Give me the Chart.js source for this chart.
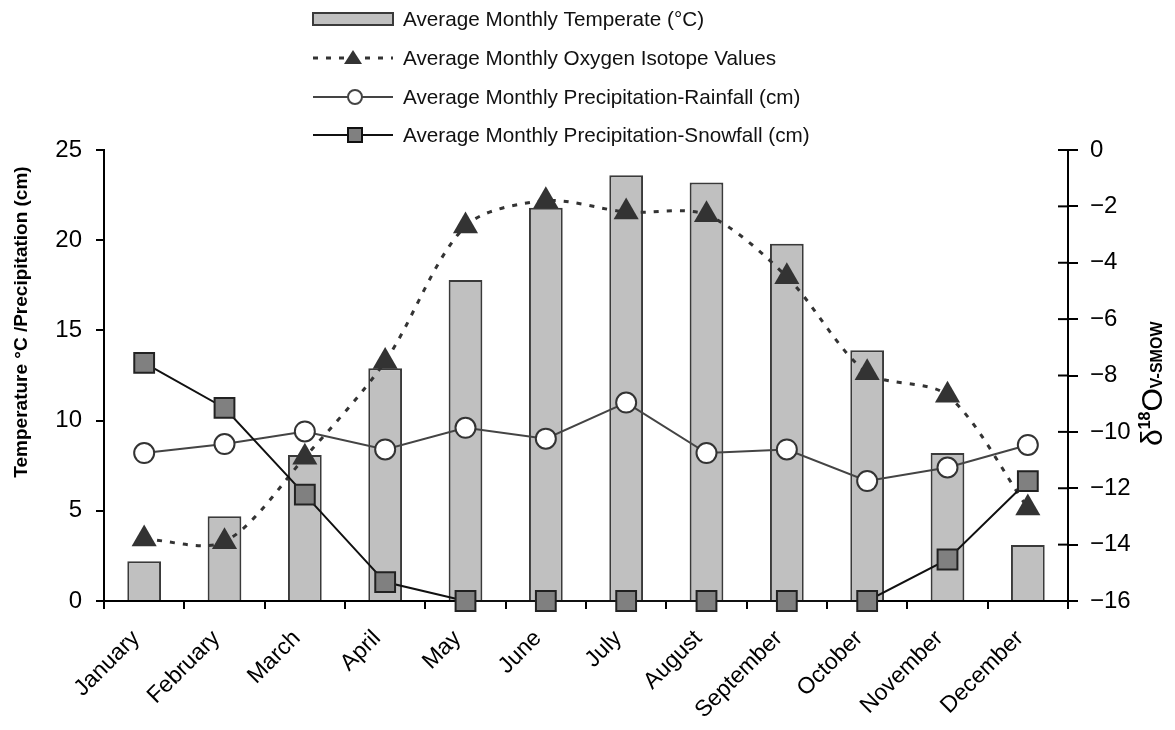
<!DOCTYPE html>
<html>
<head>
<meta charset="utf-8">
<script src="https://cdn.jsdelivr.net/npm/chart.js@4.4.0/dist/chart.umd.min.js"></script>
<style>
  body { margin: 0; background: #fff; }
  #wrap { width: 1175px; height: 730px; position: relative; }
</style>
</head>
<body>
<div id="wrap"><canvas id="myChart"></canvas></div>
<script>
// data
var months = ["January", "February", "March", "April", "May", "June", "July", "August", "September", "October", "November", "December"];
var temperature = [2.2, 4.7, 8.1, 12.9, 17.8, 21.8, 23.6, 23.2, 19.8, 13.9, 8.2, 3.1];
var isotope = [-13.8, -13.9, -10.9, -7.5, -2.7, -1.8, -2.2, -2.3, -4.5, -7.9, -8.7, -12.7];
var rainfall = [8.2, 8.7, 9.4, 8.4, 9.6, 9.0, 11.0, 8.2, 8.4, 6.65, 7.4, 8.65];
var snowfall = [13.2, 10.7, 5.9, 1.05, 0, 0, 0, 0, 0, 0, 2.3, 6.65];

var seriesNames = [
    "Average Monthly Temperate (\u00B0C)",
    "Average Monthly Oxygen Isotope Values",
    "Average Monthly Precipitation-Rainfall (cm)",
    "Average Monthly Precipitation-Snowfall (cm)"
];
var leftTitle = "Temperature \u00B0C /Precipitation (cm)";

var FONT = "'Liberation Sans', Arial, sans-serif";

// legend, axis titles and the inner half of the right ticks
var extras = {
    id: "extras",
    afterDraw: function(chart) {
        var ctx = chart.ctx;
        ctx.save();

        // legend rows
        var x0 = 313, x1 = 393, tx = 403;
        var rows = [19, 58, 97, 135];
        ctx.font = "20.7px " + FONT;
        ctx.textBaseline = "middle";
        ctx.textAlign = "left";
        ctx.fillStyle = "#111";
        for (i = 0; i < rows.length; i++) {
            ctx.fillText(seriesNames[i], tx, rows[i] + 1);
        }
        // bar swatch
        ctx.fillStyle = "#c0c0c0";
        ctx.strokeStyle = "#3a3a3a";
        ctx.lineWidth = 2;
        ctx.fillRect(x0, rows[0] - 6, x1 - x0, 12);
        ctx.strokeRect(x0, rows[0] - 6, x1 - x0, 12);
        // dashed + triangle
        ctx.strokeStyle = "#333";
        ctx.lineWidth = 3;
        ctx.setLineDash([5, 8]);
        ctx.beginPath();
        ctx.moveTo(x0, rows[1]); ctx.lineTo(x1, rows[1]);
        ctx.stroke();
        ctx.setLineDash([]);
        ctx.fillStyle = "#333";
        ctx.beginPath();
        ctx.moveTo(353, rows[1] - 8);
        ctx.lineTo(362, rows[1] + 6);
        ctx.lineTo(344, rows[1] + 6);
        ctx.closePath();
        ctx.fill();
        // rainfall
        ctx.strokeStyle = "#444";
        ctx.lineWidth = 2;
        ctx.beginPath();
        ctx.moveTo(x0, rows[2]); ctx.lineTo(x1, rows[2]);
        ctx.stroke();
        ctx.fillStyle = "#fff";
        ctx.beginPath();
        ctx.arc(355, rows[2], 7, 0, Math.PI * 2);
        ctx.fill(); ctx.stroke();
        // snowfall
        ctx.strokeStyle = "#111";
        ctx.beginPath();
        ctx.moveTo(x0, rows[3]); ctx.lineTo(x1, rows[3]);
        ctx.stroke();
        ctx.fillStyle = "#808080";
        ctx.fillRect(348, rows[3] - 7, 14, 14);
        ctx.strokeRect(348, rows[3] - 7, 14, 14);

        // left axis title
        ctx.save();
        ctx.translate(22, 322);
        ctx.rotate(-Math.PI / 2);
        ctx.font = "bold 19px " + FONT;
        ctx.fillStyle = "#000";
        ctx.textAlign = "center";
        ctx.textBaseline = "middle";
        ctx.fillText(leftTitle, 0, 0);
        ctx.restore();

        // right axis title: delta 18 O V-SMOW
        ctx.save();
        ctx.translate(1162, 446);
        ctx.rotate(-Math.PI / 2);
        ctx.fillStyle = "#000";
        ctx.textAlign = "left";
        ctx.textBaseline = "alphabetic";
        var px = 0;
        ctx.font = "30px " + FONT;
        ctx.fillText("\u03B4", px, 0);
        px += ctx.measureText("\u03B4").width;
        ctx.font = "bold 16px " + FONT;
        ctx.fillText("18", px, -12);
        px += ctx.measureText("18").width;
        ctx.font = "30px " + FONT;
        ctx.fillText("O", px, 0);
        px += ctx.measureText("O").width;
        ctx.font = "bold 16px " + FONT;
        ctx.fillText("V-SMOW", px, 0);
        ctx.restore();

        // right axis ticks cross the line
        var ry = chart.scales.y1;
        ctx.strokeStyle = "#000";
        ctx.lineWidth = 2;
        ry.ticks.forEach(function(t) {
            var yy = ry.getPixelForValue(t.value);
            ctx.beginPath();
            ctx.moveTo(ry.left - 10, yy);
            ctx.lineTo(ry.left, yy);
            ctx.stroke();
        });

        ctx.restore();
    }
};

const canvas = document.getElementById("myChart");
const chart = new Chart(canvas, {
    data: {
        labels: months,
        datasets: [{
            type: "bar",
            label: seriesNames[0],
            data: temperature,
            yAxisID: "y",
            backgroundColor: "#c0c0c0",
            borderColor: "#3a3a3a",
            borderWidth: 2,
            barPercentage: 0.42,
            categoryPercentage: 1,
            order: 10
        }, {
            type: "line",
            label: seriesNames[1],
            data: isotope,
            yAxisID: "y1",
            borderColor: "#333",
            borderWidth: 3,
            borderDash: [5, 8],
            tension: 0.3,
            pointStyle: "triangle",
            pointRadius: 14.5,
            pointBackgroundColor: "#333",
            pointBorderColor: "#333",
            pointBorderWidth: 0,
            clip: false,
            order: 3
        }, {
            type: "line",
            label: seriesNames[2],
            data: rainfall,
            yAxisID: "y",
            borderColor: "#444",
            borderWidth: 2,
            tension: 0,
            pointStyle: "circle",
            pointRadius: 10,
            pointBackgroundColor: "#fff",
            pointBorderColor: "#333",
            pointBorderWidth: 2,
            clip: false,
            order: 2
        }, {
            type: "line",
            label: seriesNames[3],
            data: snowfall,
            yAxisID: "y",
            borderColor: "#111",
            borderWidth: 2,
            tension: 0,
            pointStyle: "rect",
            pointRadius: 14,
            pointBackgroundColor: "#808080",
            pointBorderColor: "#222",
            pointBorderWidth: 2,
            clip: false,
            order: 1
        }]
    },
    options: {
        responsive: true,
        maintainAspectRatio: false,
        animation: false,
        layout: { padding: { top: 150, left: 0, right: 0, bottom: 0 } },
        plugins: {
            legend: { display: false },
            tooltip: { enabled: false }
        },
        scales: {
            x: {
                offset: true,
                grid: { offset: true, drawOnChartArea: false, tickLength: 8, color: "#000", lineWidth: 2 },
                border: { color: "#000", width: 2 },
                ticks: {
                    maxRotation: 45,
                    minRotation: 45,
                    padding: 16,
                    labelOffset: -8,
                    color: "#000",
                    font: { family: FONT, size: 23 }
                },
                afterFit: function(s) { s.height = 129; }
            },
            y: {
                position: "left",
                min: 0,
                max: 25,
                grid: { drawOnChartArea: false, tickLength: 8, color: "#000", lineWidth: 2 },
                border: { color: "#000", width: 2 },
                ticks: {
                    stepSize: 5,
                    padding: 14,
                    color: "#000",
                    font: { family: FONT, size: 24 }
                },
                afterFit: function(s) { s.width = 104; }
            },
            y1: {
                position: "right",
                min: -16,
                max: 0,
                grid: { drawOnChartArea: false, tickLength: 10, color: "#000", lineWidth: 2 },
                border: { color: "#000", width: 2 },
                ticks: {
                    stepSize: 2,
                    padding: 12,
                    color: "#000",
                    font: { family: FONT, size: 24 },
                    callback: function(v) { return String(v).replace("-", "\u2212"); }
                },
                afterFit: function(s) { s.width = 107; }
            }
        }
    },
    plugins: [extras]
});
</script>
</body>
</html>
